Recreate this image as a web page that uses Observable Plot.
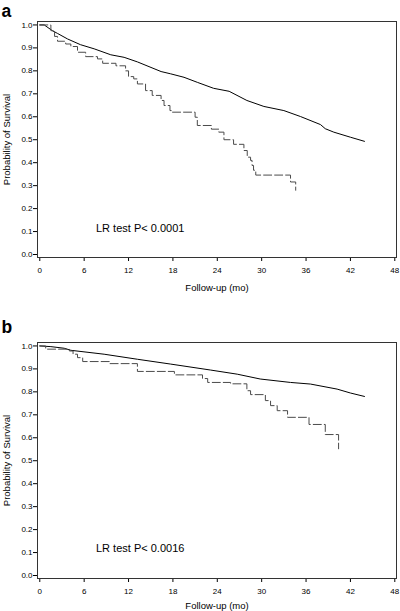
<!DOCTYPE html>
<html>
<head>
<meta charset="utf-8">
<script src="https://cdn.jsdelivr.net/npm/d3@7"></script>
<script src="https://cdn.jsdelivr.net/npm/@observablehq/plot@0.6"></script>
<style>
  html, body { margin: 0; padding: 0; background: #fff; }
  #chart svg { display: block; }
</style>
</head>
<body>
<div id="chart"></div>
<script>
// ---- data ----
const xTicks = [0, 6, 12, 18, 24, 30, 36, 42, 48];
const yTicks = [0, 0.1, 0.2, 0.3, 0.4, 0.5, 0.6, 0.7, 0.8, 0.9, 1.0];
const panelLabels = ["a", "b"];
const xLabel = "Follow-up (mo)";
const yLabel = "Probability of Survival";
const testLabels = ["LR test P< 0.0001", "LR test P< 0.0016"];

// Panel a, solid group
const aSolidMonths = [0, 0.6, 1.7, 2.4, 3.75, 5.5, 7.35, 9.6, 11.4, 13.2, 16.4, 17.7, 19.5, 21.3, 23.5, 25.6, 28.0, 30.3, 33.0, 35.25, 37.95, 38.6, 39.75, 42.0, 43.9];
const aSolidSurv   = [1.0, 1.0, 0.975, 0.963, 0.939, 0.914, 0.896, 0.870, 0.859, 0.839, 0.797, 0.787, 0.772, 0.750, 0.724, 0.711, 0.671, 0.645, 0.627, 0.601, 0.566, 0.548, 0.533, 0.511, 0.493];
// Panel a, dashed group (step times, survival after step)
const aDashMonths = [0, 1.5, 2.0, 2.4, 3.5, 4.2, 5.1, 6.2, 7.8, 8.5, 10.3, 11.6, 12.0, 12.7, 13.2, 14.3, 15.2, 16.4, 16.8, 17.6, 17.9, 21.0, 21.3, 23.2, 24.2, 24.9, 26.2, 27.6, 28.05, 28.5, 28.7, 28.9, 29.2, 33.9, 34.6];
const aDashSurv   = [1.0, 0.975, 0.950, 0.929, 0.917, 0.906, 0.881, 0.862, 0.852, 0.833, 0.822, 0.800, 0.775, 0.765, 0.743, 0.714, 0.693, 0.671, 0.649, 0.627, 0.620, 0.598, 0.562, 0.546, 0.533, 0.500, 0.480, 0.453, 0.424, 0.410, 0.388, 0.367, 0.346, 0.316, 0.280];

// Panel b, solid group
const bSolidMonths = [0, 1.5, 3.3, 4.2, 8.7, 13.2, 17.7, 23.1, 26.7, 29.8, 33.9, 36.6, 40.2, 42.0, 43.9];
const bSolidSurv   = [1.0, 0.997, 0.990, 0.981, 0.964, 0.942, 0.921, 0.895, 0.877, 0.856, 0.841, 0.834, 0.812, 0.795, 0.780];
// Panel b, dashed group
const bDashMonths = [0, 0.8, 4.0, 4.5, 5.1, 5.8, 9.4, 13.2, 18.2, 22.0, 22.7, 25.8, 28.0, 28.5, 30.5, 31.2, 32.1, 33.5, 36.4, 38.6, 40.4];
const bDashSurv   = [1.0, 0.986, 0.978, 0.964, 0.949, 0.932, 0.923, 0.889, 0.874, 0.858, 0.841, 0.835, 0.805, 0.788, 0.762, 0.740, 0.718, 0.689, 0.658, 0.614, 0.552];

const zip = (xs, ys) => xs.map((x, i) => ({month: x, surv: ys[i]}));

const FONT = "'Liberation Sans', Arial, Helvetica, sans-serif";

function panel({letter, solid, dashed, testLabel, height, marginTop, marginBottom, xLabelDy, testY, letterDy}) {
  return Plot.plot({
    width: 400,
    height,
    marginLeft: 37,
    marginRight: 4,
    marginTop,
    marginBottom,
    style: {fontFamily: FONT, fontSize: "8px", background: "#fff", color: "#000"},
    x: {domain: [-0.31, 48.23]},
    y: {domain: [-0.013, 1.015]},
    marks: [
      Plot.axisX({ticks: xTicks, tickSize: 4, tickPadding: 6, label: null, tickFormat: d3.format("d")}),
      Plot.axisY({ticks: yTicks, tickSize: 4, tickPadding: 1, label: null, tickFormat: d3.format(".1f")}),
      Plot.frame({stroke: "#333", strokeWidth: 1}),
      Plot.line(solid, {x: "month", y: "surv", stroke: "#000", strokeWidth: 1}),
      Plot.line(dashed, {x: "month", y: "surv", curve: "step-after", stroke: "#4a4a4a", strokeWidth: 1, strokeDasharray: "8,3"}),
      Plot.text([testLabel], {x: 7.6, y: testY, text: d => d, textAnchor: "start", lineAnchor: "middle", fontSize: 11}),
      Plot.text([xLabel], {frameAnchor: "bottom", dy: xLabelDy, text: d => d, textAnchor: "middle", lineAnchor: "middle", fontSize: 9.5}),
      Plot.text([yLabel], {frameAnchor: "left", dx: -31, rotate: -90, text: d => d, textAnchor: "middle", lineAnchor: "middle", fontSize: 9.5}),
      Plot.text([letter], {frameAnchor: "top-left", dx: -36, dy: letterDy, text: d => d, textAnchor: "start", lineAnchor: "bottom", fontSize: 17.5, fontWeight: "bold"})
    ]
  });
}

const chart = document.getElementById("chart");
chart.append(panel({
  letter: panelLabels[0],
  solid: zip(aSolidMonths, aSolidSurv),
  dashed: zip(aDashMonths, aDashSurv),
  testLabel: testLabels[0],
  height: 312, marginTop: 21, marginBottom: 55, xLabelDy: 30, testY: 0.113, letterDy: -5
}));
chart.append(panel({
  letter: panelLabels[1],
  solid: zip(bSolidMonths, bSolidSurv),
  dashed: zip(bDashMonths, bDashSurv),
  testLabel: testLabels[1],
  height: 299, marginTop: 30, marginBottom: 33, xLabelDy: 27, testY: 0.119, letterDy: -10
}));
</script>
</body>
</html>
